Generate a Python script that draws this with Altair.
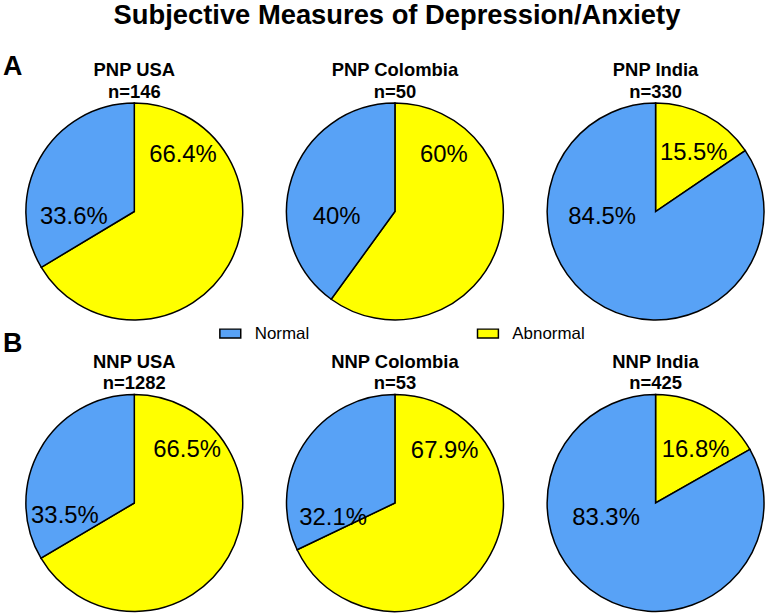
import altair as alt
import pandas as pd

# ---------------- data ----------------
GROUPS = ["PNP", "PNP", "PNP", "NNP", "NNP", "NNP"]
COUNTRIES = ["USA", "Colombia", "India", "USA", "Colombia", "India"]
N_VALUES = [146, 50, 330, 1282, 53, 425]
ABNORMAL_PCT = [66.4, 60.0, 15.5, 66.5, 67.9, 16.8]
NORMAL_PCT = [33.6, 40.0, 84.5, 33.5, 32.1, 83.3]
CATEGORIES = ["Normal", "Abnormal"]

# ---------------- style / layout ----------------
COLORS = ["#58A2F6", "#FFFF00"]
FONT = "Liberation Sans"
R = 109
SIZE = 220
# label placement in polar terms (degrees clockwise from 12 o'clock, px from centre)
ABN_LABEL_ANGLE = [40.7, 40.9, 33.2, 45.0, 44.0, 36.9]
ABN_LABEL_RADIUS = [75, 75, 70, 75, 72, 67]
NOR_LABEL_ANGLE = [264.4, 264.5, 263.9, 259.2, 256.4, 253.3]
NOR_LABEL_RADIUS = [61, 59, 54, 71, 64, 52]

RECT = "M-1,-0.43L1,-0.43L1,0.43L-1,0.43Z"


def pie(i):
    df = pd.DataFrame({
        "category": ["Abnormal", "Normal"],
        "value": [ABNORMAL_PCT[i], NORMAL_PCT[i]],
        "ord": [0, 1],
        "label": [f"{ABNORMAL_PCT[i]:g}%", f"{NORMAL_PCT[i]:g}%"],
        "lang": [ABN_LABEL_ANGLE[i], NOR_LABEL_ANGLE[i]],
        "lrad": [ABN_LABEL_RADIUS[i], NOR_LABEL_RADIUS[i]],
    })
    base = alt.Chart(df)
    arcs = base.mark_arc(outerRadius=R, stroke="black", strokeWidth=1.5).encode(
        theta=alt.Theta("value:Q", stack="normalize"),
        color=alt.Color(
            "category:N",
            scale=alt.Scale(domain=CATEGORIES, range=COLORS),
            legend=alt.Legend(
                orient="none", legendX=195, legendY=221, direction="horizontal",
                title=None, symbolType=RECT, symbolSize=441,
                symbolStrokeColor="black", symbolStrokeWidth=1.5, symbolOpacity=1,
                labelFont=FONT, labelFontSize=17, labelColor="black",
                labelOffset=13, columnPadding=166,
            ),
        ),
        order=alt.Order("ord:Q"),
    )
    labels = base.mark_text(fontSize=24, font=FONT, color="black").encode(
        theta=alt.Theta("lang:Q", stack=False,
                        scale=alt.Scale(domain=[0, 360], range=[0, 6.283185307179586])),
        radius=alt.Radius("lrad:Q", scale=alt.Scale(type="linear", domain=[0, R], range=[0, R])),
        text="label:N",
    )
    return alt.layer(arcs, labels).resolve_scale(theta="independent").properties(
        width=SIZE, height=SIZE,
        title=alt.TitleParams(
            [f"{GROUPS[i]} {COUNTRIES[i]}", f"n={N_VALUES[i]}"],
            fontSize=18.5, fontWeight="bold", font=FONT, color="black",
            anchor="middle", lineHeight=21.6, offset=-1,
        ),
    )


def row(letter, idx, dy):
    return alt.hconcat(*[pie(i) for i in idx], spacing=38).properties(
        title=alt.TitleParams(letter, anchor="start", fontSize=27, fontWeight="bold",
                              font=FONT, color="black", dx=-20, dy=dy, offset=0)
    )


chart = alt.vconcat(
    row("A", [0, 1, 2], 20),
    row("B", [3, 4, 5], 5),
    spacing=6,
).properties(
    title=alt.TitleParams("Subjective Measures of Depression/Anxiety", fontSize=27.5,
                          fontWeight="bold", font=FONT, color="black", anchor="middle",
                          offset=24, dx=12),
    padding={"left": 3, "top": 0, "right": 0, "bottom": 0},
).configure_view(strokeWidth=0).configure(background="white")

chart.save("out.html", embed_options={"renderer": "svg", "actions": False})
